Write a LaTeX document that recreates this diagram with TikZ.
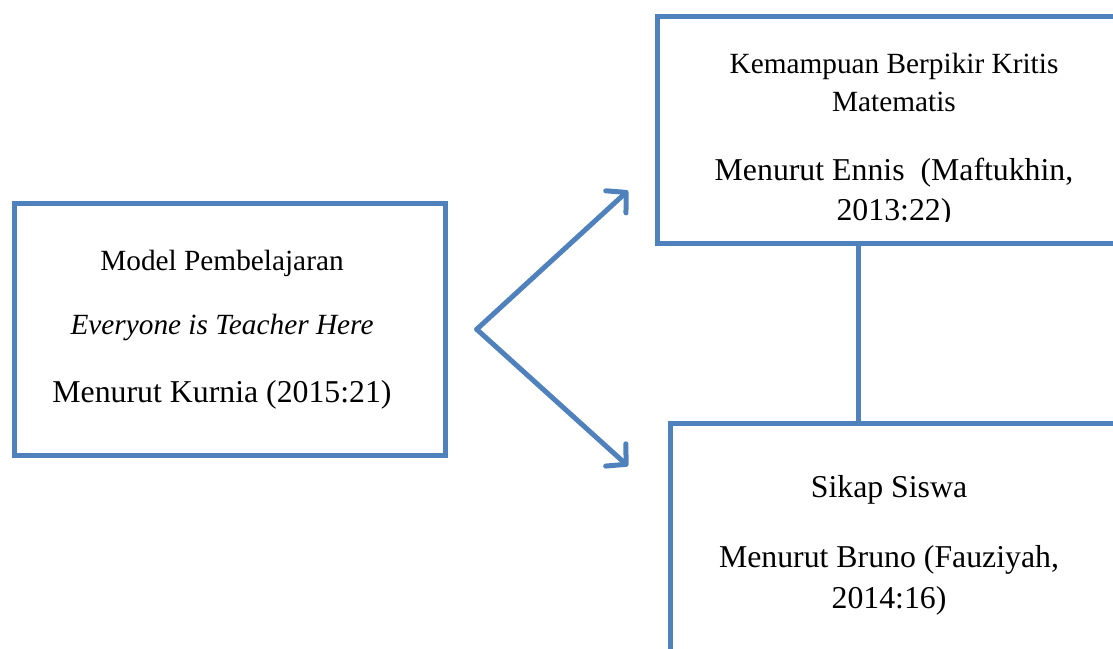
\documentclass[tikz,border=0pt]{standalone}
\usepackage{fontspec}
\setmainfont{Liberation Serif}
\usetikzlibrary{arrows.meta}
\definecolor{boxblue}{HTML}{4F81BD}
\begin{document}
\begin{tikzpicture}[x=1pt,y=-1pt,
  boxframe/.style={draw=boxblue, line width=5pt, rectangle, inner sep=0pt, fill=white},
  smalltxt/.style={font=\fontsize{29.3}{36}\selectfont, anchor=base, inner sep=0pt},
  largetxt/.style={font=\fontsize{31.8}{40}\selectfont, anchor=base, inner sep=0pt},
  link/.style={draw=boxblue, line width=5pt},
  arrowlink/.style={link, line cap=round, -{Straight Barb[length=14pt,width=30pt,line cap=round,line join=round]}}]
\clip (0,0) rectangle (1113,648);
\fill[white] (0,0) rectangle (1113,648);
% boxes
\node[boxframe, minimum width=431pt, minimum height=252pt] (left) at (229.5,329.5) {};
\node[boxframe, minimum width=483pt, minimum height=226.5pt] (topbox) at (898.5,129.75) {};
\node[boxframe, minimum width=470pt, minimum height=256.5pt] (botbox) at (905,551.75) {};
% left text
\node[smalltxt] (l1) at (222,270) {Model Pembelajaran};
\node[smalltxt] (l2) at (222,334) {\itshape Everyone is Teacher Here};
\node[largetxt] (l3) at (222,402) {Menurut Kurnia (2015:21)};
% top text
\node[smalltxt] (t1) at (894,73) {Kemampuan Berpikir Kritis};
\node[smalltxt] (t2) at (894,111) {Matematis};
\node[largetxt] (t3) at (894,180) {Menurut Ennis\ \ (Maftukhin,};
\begin{scope}
\clip (657,16) rectangle (1113,221);
\node[largetxt] (t4) at (894,220) {2013:22)};
\end{scope}
% bottom text
\node[largetxt] (b1) at (889,497) {Sikap Siswa};
\node[largetxt] (b2) at (889,567) {Menurut Bruno (Fauziyah,};
\node[largetxt] (b3) at (889,608) {2014:16)};
% connectors
\coordinate (cx) at (858,0);
\draw[link] (topbox.south -| cx) -- (botbox.north -| cx);
\coordinate (apex) at (476.7,329.3);
\coordinate (tipup) at (628,190.7);
\coordinate (tipdown) at (628,466);
\draw[arrowlink] (apex) -- (tipup);
\draw[arrowlink] (apex) -- (tipdown);
\end{tikzpicture}
\end{document}
